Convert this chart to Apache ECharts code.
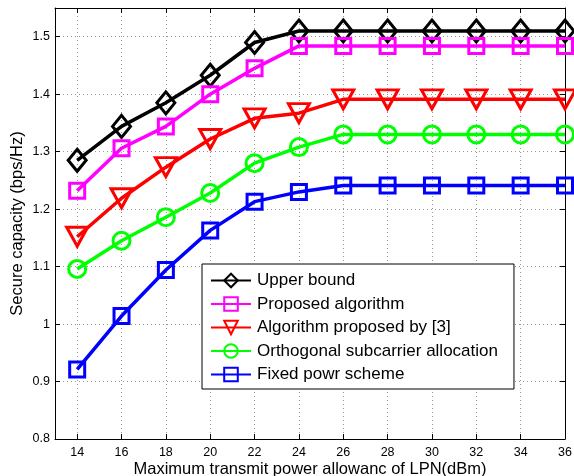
<!DOCTYPE html>
<html lang="en">
<head>
  <meta charset="utf-8">
  <title>Secure capacity vs LPN power</title>
  <script type="text/javascript" src="https://fastly.jsdelivr.net/npm/echarts@6/dist/echarts.min.js"></script>
  <style type="text/css">
    * { margin: 0; padding: 0; }
    html, body, #chart { width: 574px; height: 476px; overflow: hidden; background: #fff; }
  </style>
</head>
<body>
  <div id="chart"></div>
  <script type="text/javascript">
    // x values (dBm)
    var powerLevels = [14, 16, 18, 20, 22, 24, 26, 28, 30, 32, 34, 36];
    var yTicks = [0.8, 0.9, 1.0, 1.1, 1.2, 1.3, 1.4, 1.5];

    var upperBound   = [1.285, 1.344, 1.385, 1.433, 1.490, 1.510, 1.510, 1.510, 1.510, 1.510, 1.510, 1.510];
    var proposed     = [1.232, 1.306, 1.344, 1.400, 1.445, 1.484, 1.484, 1.484, 1.484, 1.484, 1.484, 1.484];
    var algRef3      = [1.152, 1.219, 1.273, 1.322, 1.358, 1.367, 1.391, 1.391, 1.391, 1.391, 1.391, 1.391];
    var orthogonal   = [1.096, 1.145, 1.186, 1.228, 1.280, 1.308, 1.330, 1.330, 1.330, 1.330, 1.330, 1.330];
    var fixedPower   = [0.921, 1.014, 1.094, 1.163, 1.213, 1.230, 1.241, 1.241, 1.241, 1.241, 1.241, 1.241];

    var seriesNames = [
      'Upper bound',
      'Proposed algorithm',
      'Algorithm proposed by [3]',
      'Orthogonal subcarrier allocation',
      'Fixed powr scheme'
    ];

    function pairs(vals) {
      return vals.map(function (v, i) { return [powerLevels[i], v]; });
    }

    // one line series in matlab style: hollow marker, thick line
    function makeSeries(name, vals, color, symbol, size, rotate) {
      return {
        type: 'line',
        name: name,
        data: pairs(vals),
        symbol: symbol,
        symbolSize: size,
        symbolRotate: rotate || 0,
        showAllSymbol: true,
        animation: false,
        lineStyle: { color: color, width: 3.5 },
        itemStyle: { color: 'rgba(255,255,255,0)', borderColor: color, borderWidth: 3 }
      };
    }

    var font = 'Liberation Sans, Arial, Helvetica, sans-serif';
    var gridLine = { show: true, lineStyle: { color: '#999', type: [1, 3], width: 1 } };

    var option = {
      backgroundColor: '#fff',
      animation: false,
      grid: { left: 55, right: 9, top: 8, bottom: 37, containLabel: false, outerBoundsMode: 'none' },
      legend: {
        orient: 'vertical',
        left: 202,
        top: 264,
        padding: [8, 16, 6, 8],
        itemWidth: 40,
        itemHeight: 17,
        itemGap: 6.5,
        backgroundColor: '#fff',
        borderColor: '#000',
        borderWidth: 1,
        borderRadius: 0,
        textStyle: { fontFamily: font, fontSize: 17, color: '#000', padding: [0, 0, 0, 1] },
        data: seriesNames
      },
      xAxis: [{
        type: 'value',
        min: 13,
        max: 36,
        name: 'Maximum transmit power allowanc of LPN(dBm)',
        nameLocation: 'middle',
        nameGap: 22,
        nameMoveOverlap: false,
        nameTextStyle: { fontFamily: font, fontSize: 16.5, color: '#000' },
        axisLine: { lineStyle: { color: '#000', width: 1 } },
        axisTick: { inside: true, length: 5, customValues: powerLevels, lineStyle: { color: '#000' } },
        axisLabel: { customValues: powerLevels, fontFamily: font, fontSize: 12.5, color: '#000', margin: 7 },
        splitLine: gridLine
      }, {
        type: 'value',
        position: 'top',
        min: 13,
        max: 36,
        axisLine: { lineStyle: { color: '#000', width: 1 } },
        axisTick: { inside: true, length: 5, customValues: powerLevels, lineStyle: { color: '#000' } },
        axisLabel: { show: false },
        splitLine: { show: false }
      }],
      yAxis: [{
        type: 'value',
        min: 0.8,
        max: 1.55,
        name: 'Secure capacity (bps/Hz)',
        nameLocation: 'middle',
        nameGap: 29,
        nameMoveOverlap: false,
        nameTextStyle: { fontFamily: font, fontSize: 16.5, color: '#000' },
        axisLine: { show: true, lineStyle: { color: '#000', width: 1 } },
        axisTick: { show: true, inside: true, length: 5, customValues: yTicks, lineStyle: { color: '#000' } },
        axisLabel: { customValues: yTicks, fontFamily: font, fontSize: 12.5, color: '#000', margin: 5 },
        splitLine: gridLine
      }, {
        type: 'value',
        position: 'right',
        min: 0.8,
        max: 1.55,
        axisLine: { show: true, lineStyle: { color: '#000', width: 1 } },
        axisTick: { show: true, inside: true, length: 5, customValues: yTicks, lineStyle: { color: '#000' } },
        axisLabel: { show: false },
        splitLine: { show: false }
      }],
      series: [
        makeSeries(seriesNames[0], upperBound, '#000000', 'diamond', [18, 22]),
        makeSeries(seriesNames[1], proposed, '#ff00ff', 'rect', 15),
        makeSeries(seriesNames[2], algRef3, '#ff0000', 'triangle', [21, 19], 180),
        makeSeries(seriesNames[3], orthogonal, '#00ff00', 'circle', 17),
        makeSeries(seriesNames[4], fixedPower, '#0000ff', 'rect', 15)
      ]
    };

    var chart = echarts.init(document.getElementById('chart'), null, { renderer: 'canvas' });
    chart.setOption(option);
  </script>
</body>
</html>
